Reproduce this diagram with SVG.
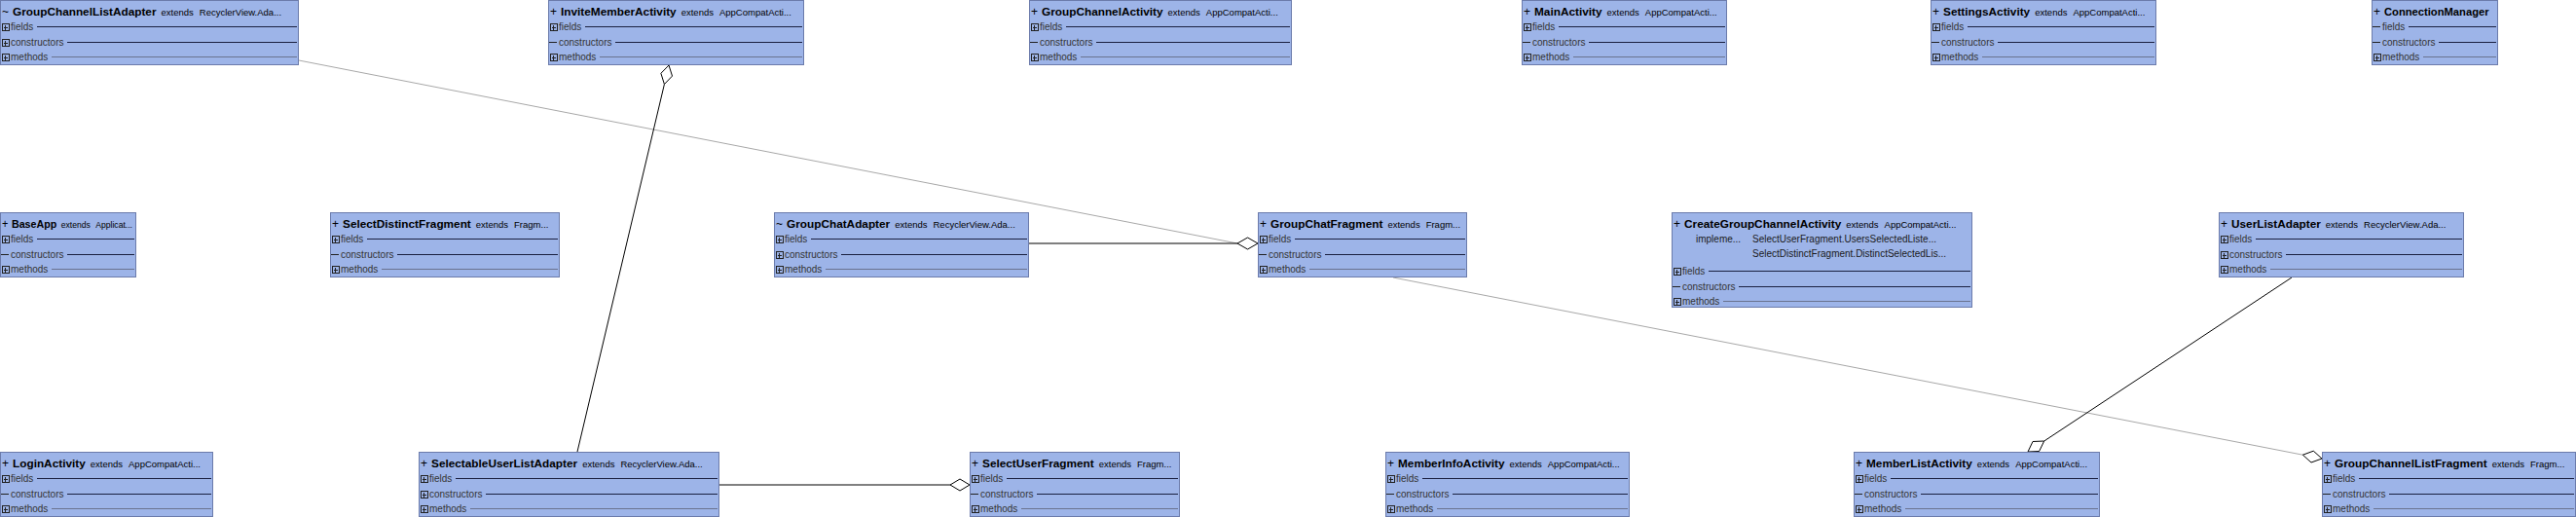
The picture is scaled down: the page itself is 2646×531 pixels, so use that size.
<svg xmlns="http://www.w3.org/2000/svg" xmlns:xlink="http://www.w3.org/1999/xlink" width="2646" height="531" viewBox="0 0 2646 531">
<style>
.box{fill:#9db4e8;stroke:#6b7bab;stroke-width:1}
.t{font-family:"Liberation Sans",Arial,sans-serif;fill:#000}
.nm{font-size:11.8px;font-weight:bold}
.pf{font-size:12px}
.ex{font-size:9.5px}
.sc{font-size:9.5px}
.r{font-family:"Liberation Sans",Arial,sans-serif;font-size:10px;fill:#333}
.r2{font-family:"Liberation Sans",Arial,sans-serif;font-size:10px;fill:#1a1a1a}
.l1{stroke:#1a2040;stroke-width:1}
.l2{stroke:#6a7390;stroke-width:1}
.ic rect{fill:none;stroke:#222;shape-rendering:crispEdges}
.ic path{fill:none;stroke:#222;shape-rendering:crispEdges}
.blk{stroke:#000;stroke-width:1;fill:none}
.gry{stroke:#a8a8a8;stroke-width:1;fill:none}
.dia{fill:#fff;stroke:#000;stroke-width:1}
</style>
<defs>
<g id="pl" class="ic"><rect x="2" y="-3" width="7" height="7"/><path d="M4 0.5H8M5.5 -1.5V3"/></g>
<g id="dh" class="ic"><path d="M1 0H9"/></g>
</defs>
<rect width="2646" height="531" fill="#fff"/>

<g id="connectors">
<line class="gry" x1="307" y1="62" x2="1271" y2="250"/>
<line class="gry" x1="1431" y1="285" x2="2365.4" y2="467.2"/>
<line class="blk" x1="1057" y1="250" x2="1271" y2="250"/>
<line class="blk" x1="593" y1="464" x2="682.4" y2="86.5"/>
<line class="blk" x1="739" y1="498" x2="976" y2="498"/>
<line class="blk" x1="2354" y1="285" x2="2099.7" y2="453"/>
<polygon class="dia" points="1292,250 1281.5,244 1271,250 1281.5,256"/>
<polygon class="dia" points="996,498 986,492 976,498 986,504"/>
<polygon class="dia" points="687,67 690.5,78.1 682.4,86.5 678.9,75.3"/>
<polygon class="dia" points="2083,464 2094.6,463.5 2099.7,453 2088,453.5"/>
<polygon class="dia" points="2385,471 2376.3,463.2 2365.4,467.2 2374,475"/>
</g>

<g id="GroupChannelListAdapter" transform="translate(0,0)">
<rect class="box" x="0.5" y="0.5" width="306" height="66"/>
<text class="t" x="2" y="16"><tspan class="pf">~</tspan><tspan class="nm" dx="4">GroupChannelListAdapter</tspan><tspan class="ex" dx="5">extends</tspan><tspan class="sc" dx="6">RecyclerView.Ada...</tspan></text>
<use href="#pl" y="27.5"/><text class="r" x="11" y="31">fields</text><line class="l1" x1="38" y1="27.5" x2="305" y2="27.5"/>
<use href="#pl" y="43.5"/><text class="r" x="11" y="47">constructors</text><line class="l1" x1="69" y1="43.5" x2="305" y2="43.5"/>
<use href="#pl" y="58.5"/><text class="r" x="11" y="62">methods</text><line class="l2" x1="53" y1="58.5" x2="305" y2="58.5"/>
</g>

<g id="InviteMemberActivity" transform="translate(563,0)">
<rect class="box" x="0.5" y="0.5" width="262" height="66"/>
<text class="t" x="2" y="16"><tspan class="pf">+</tspan><tspan class="nm" dx="4">InviteMemberActivity</tspan><tspan class="ex" dx="5">extends</tspan><tspan class="sc" dx="6">AppCompatActi...</tspan></text>
<use href="#pl" y="27.5"/><text class="r" x="11" y="31">fields</text><line class="l1" x1="38" y1="27.5" x2="261" y2="27.5"/>
<use href="#dh" y="43.5"/><text class="r" x="11" y="47">constructors</text><line class="l1" x1="69" y1="43.5" x2="261" y2="43.5"/>
<use href="#pl" y="58.5"/><text class="r" x="11" y="62">methods</text><line class="l2" x1="53" y1="58.5" x2="261" y2="58.5"/>
</g>

<g id="GroupChannelActivity" transform="translate(1057,0)">
<rect class="box" x="0.5" y="0.5" width="269" height="66"/>
<text class="t" x="2" y="16"><tspan class="pf">+</tspan><tspan class="nm" dx="4">GroupChannelActivity</tspan><tspan class="ex" dx="5">extends</tspan><tspan class="sc" dx="6">AppCompatActi...</tspan></text>
<use href="#pl" y="27.5"/><text class="r" x="11" y="31">fields</text><line class="l1" x1="38" y1="27.5" x2="268" y2="27.5"/>
<use href="#dh" y="43.5"/><text class="r" x="11" y="47">constructors</text><line class="l1" x1="69" y1="43.5" x2="268" y2="43.5"/>
<use href="#pl" y="58.5"/><text class="r" x="11" y="62">methods</text><line class="l2" x1="53" y1="58.5" x2="268" y2="58.5"/>
</g>

<g id="MainActivity" transform="translate(1563,0)">
<rect class="box" x="0.5" y="0.5" width="210" height="66"/>
<text class="t" x="2" y="16"><tspan class="pf">+</tspan><tspan class="nm" dx="4">MainActivity</tspan><tspan class="ex" dx="5">extends</tspan><tspan class="sc" dx="6">AppCompatActi...</tspan></text>
<use href="#pl" y="27.5"/><text class="r" x="11" y="31">fields</text><line class="l1" x1="38" y1="27.5" x2="209" y2="27.5"/>
<use href="#dh" y="43.5"/><text class="r" x="11" y="47">constructors</text><line class="l1" x1="69" y1="43.5" x2="209" y2="43.5"/>
<use href="#pl" y="58.5"/><text class="r" x="11" y="62">methods</text><line class="l2" x1="53" y1="58.5" x2="209" y2="58.5"/>
</g>

<g id="SettingsActivity" transform="translate(1983,0)">
<rect class="box" x="0.5" y="0.5" width="231" height="66"/>
<text class="t" x="2" y="16"><tspan class="pf">+</tspan><tspan class="nm" dx="4">SettingsActivity</tspan><tspan class="ex" dx="5">extends</tspan><tspan class="sc" dx="6">AppCompatActi...</tspan></text>
<use href="#pl" y="27.5"/><text class="r" x="11" y="31">fields</text><line class="l1" x1="38" y1="27.5" x2="230" y2="27.5"/>
<use href="#dh" y="43.5"/><text class="r" x="11" y="47">constructors</text><line class="l1" x1="69" y1="43.5" x2="230" y2="43.5"/>
<use href="#pl" y="58.5"/><text class="r" x="11" y="62">methods</text><line class="l2" x1="53" y1="58.5" x2="230" y2="58.5"/>
</g>

<g id="ConnectionManager" transform="translate(2436,0)">
<rect class="box" x="0.5" y="0.5" width="129" height="66"/>
<text class="t" x="2" y="16"><tspan class="pf">+</tspan><tspan class="nm" dx="4" style="font-size:11.2px">ConnectionManager</tspan></text>
<use href="#dh" y="27.5"/><text class="r" x="11" y="31">fields</text><line class="l1" x1="38" y1="27.5" x2="128" y2="27.5"/>
<use href="#dh" y="43.5"/><text class="r" x="11" y="47">constructors</text><line class="l1" x1="69" y1="43.5" x2="128" y2="43.5"/>
<use href="#pl" y="58.5"/><text class="r" x="11" y="62">methods</text><line class="l2" x1="53" y1="58.5" x2="128" y2="58.5"/>
</g>

<g id="BaseApp" transform="translate(0,218)">
<rect class="box" x="0.5" y="0.5" width="139" height="66"/>
<text class="t" x="2" y="16" textLength="134" lengthAdjust="spacingAndGlyphs"><tspan class="pf">+</tspan><tspan class="nm" dx="4">BaseApp</tspan><tspan class="ex" dx="5">extends</tspan><tspan class="sc" dx="6">Applicat...</tspan></text>
<use href="#pl" y="27.5"/><text class="r" x="11" y="31">fields</text><line class="l1" x1="38" y1="27.5" x2="138" y2="27.5"/>
<use href="#dh" y="43.5"/><text class="r" x="11" y="47">constructors</text><line class="l1" x1="69" y1="43.5" x2="138" y2="43.5"/>
<use href="#pl" y="58.5"/><text class="r" x="11" y="62">methods</text><line class="l2" x1="53" y1="58.5" x2="138" y2="58.5"/>
</g>

<g id="SelectDistinctFragment" transform="translate(339,218)">
<rect class="box" x="0.5" y="0.5" width="235" height="66"/>
<text class="t" x="2" y="16"><tspan class="pf">+</tspan><tspan class="nm" dx="4">SelectDistinctFragment</tspan><tspan class="ex" dx="5">extends</tspan><tspan class="sc" dx="6">Fragm...</tspan></text>
<use href="#pl" y="27.5"/><text class="r" x="11" y="31">fields</text><line class="l1" x1="38" y1="27.5" x2="234" y2="27.5"/>
<use href="#dh" y="43.5"/><text class="r" x="11" y="47">constructors</text><line class="l1" x1="69" y1="43.5" x2="234" y2="43.5"/>
<use href="#pl" y="58.5"/><text class="r" x="11" y="62">methods</text><line class="l2" x1="53" y1="58.5" x2="234" y2="58.5"/>
</g>

<g id="GroupChatAdapter" transform="translate(795,218)">
<rect class="box" x="0.5" y="0.5" width="261" height="66"/>
<text class="t" x="2" y="16"><tspan class="pf">~</tspan><tspan class="nm" dx="4">GroupChatAdapter</tspan><tspan class="ex" dx="5">extends</tspan><tspan class="sc" dx="6">RecyclerView.Ada...</tspan></text>
<use href="#pl" y="27.5"/><text class="r" x="11" y="31">fields</text><line class="l1" x1="38" y1="27.5" x2="260" y2="27.5"/>
<use href="#pl" y="43.5"/><text class="r" x="11" y="47">constructors</text><line class="l1" x1="69" y1="43.5" x2="260" y2="43.5"/>
<use href="#pl" y="58.5"/><text class="r" x="11" y="62">methods</text><line class="l2" x1="53" y1="58.5" x2="260" y2="58.5"/>
</g>

<g id="GroupChatFragment" transform="translate(1292,218)">
<rect class="box" x="0.5" y="0.5" width="214" height="66"/>
<text class="t" x="2" y="16"><tspan class="pf">+</tspan><tspan class="nm" dx="4">GroupChatFragment</tspan><tspan class="ex" dx="5">extends</tspan><tspan class="sc" dx="6">Fragm...</tspan></text>
<use href="#pl" y="27.5"/><text class="r" x="11" y="31">fields</text><line class="l1" x1="38" y1="27.5" x2="213" y2="27.5"/>
<use href="#dh" y="43.5"/><text class="r" x="11" y="47">constructors</text><line class="l1" x1="69" y1="43.5" x2="213" y2="43.5"/>
<use href="#pl" y="58.5"/><text class="r" x="11" y="62">methods</text><line class="l2" x1="53" y1="58.5" x2="213" y2="58.5"/>
</g>

<g id="CreateGroupChannelActivity" transform="translate(1717,218)">
<rect class="box" x="0.5" y="0.5" width="308" height="97"/>
<text class="t" x="2" y="16"><tspan class="pf">+</tspan><tspan class="nm" dx="4">CreateGroupChannelActivity</tspan><tspan class="ex" dx="5">extends</tspan><tspan class="sc" dx="6">AppCompatActi...</tspan></text>
<text class="r2" x="25" y="31">impleme...</text>
<text class="r2" x="83" y="31">SelectUserFragment.UsersSelectedListe...</text>
<text class="r2" x="83" y="46">SelectDistinctFragment.DistinctSelectedLis...</text>
<use href="#pl" y="60.5"/><text class="r" x="11" y="64">fields</text><line class="l1" x1="38" y1="60.5" x2="307" y2="60.5"/>
<use href="#dh" y="76.5"/><text class="r" x="11" y="80">constructors</text><line class="l1" x1="69" y1="76.5" x2="307" y2="76.5"/>
<use href="#pl" y="91.5"/><text class="r" x="11" y="95">methods</text><line class="l2" x1="53" y1="91.5" x2="307" y2="91.5"/>
</g>

<g id="UserListAdapter" transform="translate(2279,218)">
<rect class="box" x="0.5" y="0.5" width="251" height="66"/>
<text class="t" x="2" y="16"><tspan class="pf">+</tspan><tspan class="nm" dx="4">UserListAdapter</tspan><tspan class="ex" dx="5">extends</tspan><tspan class="sc" dx="6">RecyclerView.Ada...</tspan></text>
<use href="#pl" y="27.5"/><text class="r" x="11" y="31">fields</text><line class="l1" x1="38" y1="27.5" x2="250" y2="27.5"/>
<use href="#pl" y="43.5"/><text class="r" x="11" y="47">constructors</text><line class="l1" x1="69" y1="43.5" x2="250" y2="43.5"/>
<use href="#pl" y="58.5"/><text class="r" x="11" y="62">methods</text><line class="l2" x1="53" y1="58.5" x2="250" y2="58.5"/>
</g>

<g id="LoginActivity" transform="translate(0,464)">
<rect class="box" x="0.5" y="0.5" width="218" height="66"/>
<text class="t" x="2" y="16"><tspan class="pf">+</tspan><tspan class="nm" dx="4">LoginActivity</tspan><tspan class="ex" dx="5">extends</tspan><tspan class="sc" dx="6">AppCompatActi...</tspan></text>
<use href="#pl" y="27.5"/><text class="r" x="11" y="31">fields</text><line class="l1" x1="38" y1="27.5" x2="217" y2="27.5"/>
<use href="#dh" y="43.5"/><text class="r" x="11" y="47">constructors</text><line class="l1" x1="69" y1="43.5" x2="217" y2="43.5"/>
<use href="#pl" y="58.5"/><text class="r" x="11" y="62">methods</text><line class="l2" x1="53" y1="58.5" x2="217" y2="58.5"/>
</g>

<g id="SelectableUserListAdapter" transform="translate(430,464)">
<rect class="box" x="0.5" y="0.5" width="308" height="66"/>
<text class="t" x="2" y="16"><tspan class="pf">+</tspan><tspan class="nm" dx="4">SelectableUserListAdapter</tspan><tspan class="ex" dx="5">extends</tspan><tspan class="sc" dx="6">RecyclerView.Ada...</tspan></text>
<use href="#pl" y="27.5"/><text class="r" x="11" y="31">fields</text><line class="l1" x1="38" y1="27.5" x2="307" y2="27.5"/>
<use href="#pl" y="43.5"/><text class="r" x="11" y="47">constructors</text><line class="l1" x1="69" y1="43.5" x2="307" y2="43.5"/>
<use href="#pl" y="58.5"/><text class="r" x="11" y="62">methods</text><line class="l2" x1="53" y1="58.5" x2="307" y2="58.5"/>
</g>

<g id="SelectUserFragment" transform="translate(996,464)">
<rect class="box" x="0.5" y="0.5" width="215" height="66"/>
<text class="t" x="2" y="16"><tspan class="pf">+</tspan><tspan class="nm" dx="4">SelectUserFragment</tspan><tspan class="ex" dx="5">extends</tspan><tspan class="sc" dx="6">Fragm...</tspan></text>
<use href="#pl" y="27.5"/><text class="r" x="11" y="31">fields</text><line class="l1" x1="38" y1="27.5" x2="214" y2="27.5"/>
<use href="#dh" y="43.5"/><text class="r" x="11" y="47">constructors</text><line class="l1" x1="69" y1="43.5" x2="214" y2="43.5"/>
<use href="#pl" y="58.5"/><text class="r" x="11" y="62">methods</text><line class="l2" x1="53" y1="58.5" x2="214" y2="58.5"/>
</g>

<g id="MemberInfoActivity" transform="translate(1423,464)">
<rect class="box" x="0.5" y="0.5" width="250" height="66"/>
<text class="t" x="2" y="16"><tspan class="pf">+</tspan><tspan class="nm" dx="4">MemberInfoActivity</tspan><tspan class="ex" dx="5">extends</tspan><tspan class="sc" dx="6">AppCompatActi...</tspan></text>
<use href="#pl" y="27.5"/><text class="r" x="11" y="31">fields</text><line class="l1" x1="38" y1="27.5" x2="249" y2="27.5"/>
<use href="#dh" y="43.5"/><text class="r" x="11" y="47">constructors</text><line class="l1" x1="69" y1="43.5" x2="249" y2="43.5"/>
<use href="#pl" y="58.5"/><text class="r" x="11" y="62">methods</text><line class="l2" x1="53" y1="58.5" x2="249" y2="58.5"/>
</g>

<g id="MemberListActivity" transform="translate(1904,464)">
<rect class="box" x="0.5" y="0.5" width="252" height="66"/>
<text class="t" x="2" y="16"><tspan class="pf">+</tspan><tspan class="nm" dx="4">MemberListActivity</tspan><tspan class="ex" dx="5">extends</tspan><tspan class="sc" dx="6">AppCompatActi...</tspan></text>
<use href="#pl" y="27.5"/><text class="r" x="11" y="31">fields</text><line class="l1" x1="38" y1="27.5" x2="251" y2="27.5"/>
<use href="#dh" y="43.5"/><text class="r" x="11" y="47">constructors</text><line class="l1" x1="69" y1="43.5" x2="251" y2="43.5"/>
<use href="#pl" y="58.5"/><text class="r" x="11" y="62">methods</text><line class="l2" x1="53" y1="58.5" x2="251" y2="58.5"/>
</g>

<g id="GroupChannelListFragment" transform="translate(2385,464)">
<rect class="box" x="0.5" y="0.5" width="260" height="66"/>
<text class="t" x="2" y="16"><tspan class="pf">+</tspan><tspan class="nm" dx="4">GroupChannelListFragment</tspan><tspan class="ex" dx="5">extends</tspan><tspan class="sc" dx="6">Fragm...</tspan></text>
<use href="#pl" y="27.5"/><text class="r" x="11" y="31">fields</text><line class="l1" x1="38" y1="27.5" x2="259" y2="27.5"/>
<use href="#dh" y="43.5"/><text class="r" x="11" y="47">constructors</text><line class="l1" x1="69" y1="43.5" x2="259" y2="43.5"/>
<use href="#pl" y="58.5"/><text class="r" x="11" y="62">methods</text><line class="l2" x1="53" y1="58.5" x2="259" y2="58.5"/>
</g>
</svg>
